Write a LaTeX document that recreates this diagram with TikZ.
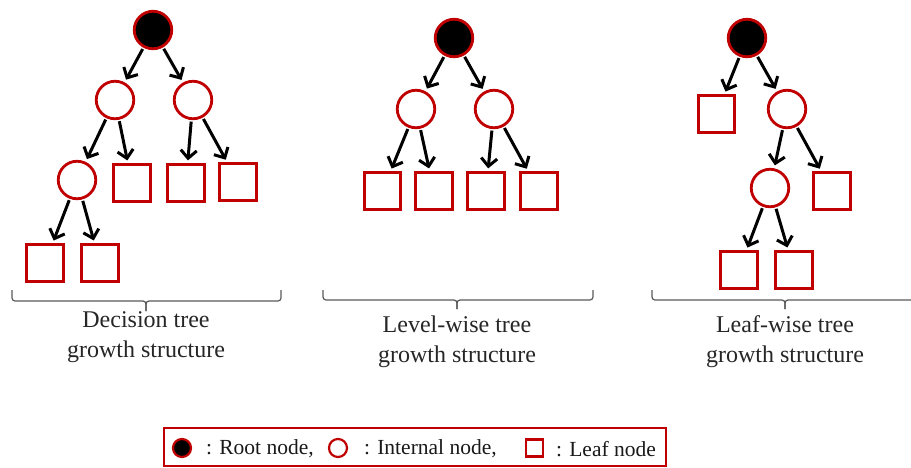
\documentclass[tikz,border=0pt]{standalone}
\usepackage{fontspec}
\setmainfont{Liberation Serif}
\usetikzlibrary{arrows.meta}
\definecolor{dred}{RGB}{192,0,0}
\begin{document}
\begin{tikzpicture}[x=1pt,y=-1pt,
 rootn/.style={circle,draw=dred,fill=black,line width=2.8pt,minimum size=37.5pt,inner sep=0pt},
 intn/.style={circle,draw=dred,fill=white,line width=2.8pt,minimum size=37.5pt,inner sep=0pt},
 leafn/.style={rectangle,draw=dred,fill=white,line width=2.8pt,minimum size=36.5pt,inner sep=0pt},
 arr/.style={line width=3pt,-{Straight Barb[length=8pt,width=16pt]},shorten >=3pt,shorten <=1.5pt},
 bracep/.style={draw=black!65,line width=1.2pt,rounded corners=3pt},
 lbl/.style={font=\fontsize{24}{30}\selectfont,align=center,text=black!85,inner sep=0pt},
 legt/.style={font=\fontsize{21.5}{24}\selectfont,text=black!90,anchor=west,inner sep=0pt},
 lroot/.style={circle,draw=dred,fill=black,line width=2.2pt,minimum size=18pt,inner sep=0pt},
 lint/.style={circle,draw=dred,fill=white,line width=2.2pt,minimum size=18pt,inner sep=0pt},
 lleaf/.style={rectangle,draw=dred,fill=white,line width=2.2pt,minimum size=17pt,inner sep=0pt}]
\useasboundingbox (0,0) rectangle (911,467);
\clip (0,0) rectangle (911,467);

% Tree 1: decision tree
\node[rootn] (r1) at (153,30) {};
\node[intn] (i1a) at (115,100) {};
\node[intn] (i1b) at (193,100) {};
\node[intn] (i1c) at (77,180) {};
\node[leafn] (l1a) at (132,183) {};
\node[leafn] (l1b) at (186,183) {};
\node[leafn] (l1c) at (238,182) {};
\node[leafn] (l1d) at (45,263) {};
\node[leafn] (l1e) at (100,263) {};
\draw[arr] (r1) -- (i1a);
\draw[arr] (r1) -- (i1b);
\draw[arr] (i1a) -- (i1c);
\draw[arr] (i1a) -- (l1a);
\draw[arr] (i1b) -- (l1b);
\draw[arr] (i1b) -- (l1c);
\draw[arr] (i1c) -- (l1d);
\draw[arr] (i1c) -- (l1e);

% Tree 2: level-wise
\node[rootn] (r2) at (454,38) {};
\node[intn] (i2a) at (416,109) {};
\node[intn] (i2b) at (494,109) {};
\node[leafn] (l2a) at (382.5,191) {};
\node[leafn] (l2b) at (434,191) {};
\node[leafn] (l2c) at (486,191) {};
\node[leafn] (l2d) at (539,191) {};
\draw[arr] (r2) -- (i2a);
\draw[arr] (r2) -- (i2b);
\draw[arr] (i2a) -- (l2a);
\draw[arr] (i2a) -- (l2b);
\draw[arr] (i2b) -- (l2c);
\draw[arr] (i2b) -- (l2d);

% Tree 3: leaf-wise
\node[rootn] (r3) at (747,38) {};
\node[leafn] (l3a) at (716.5,114) {};
\node[intn] (i3a) at (787,109) {};
\node[intn] (i3b) at (770,188) {};
\node[leafn] (l3b) at (832,191) {};
\node[leafn] (l3c) at (739,270) {};
\node[leafn] (l3d) at (794,270) {};
\draw[arr] (r3) -- (l3a);
\draw[arr] (r3) -- (i3a);
\draw[arr] (i3a) -- (i3b);
\draw[arr] (i3a) -- (l3b);
\draw[arr] (i3b) -- (l3c);
\draw[arr] (i3b) -- (l3d);

% Braces
\draw[bracep] (12,290) -- (12,301) -- (146,301) -- (146,311);
\draw[bracep] (281,290) -- (281,301) -- (146,301) -- (146,311);
\draw[bracep] (323,290) -- (323,300) -- (457,300) -- (457,309);
\draw[bracep] (593,290) -- (593,300) -- (457,300) -- (457,309);
\draw[bracep] (652,290) -- (652,300) -- (785,300) -- (785,309);
\draw[bracep] (918,290) -- (918,300) -- (785,300) -- (785,309);

% Labels
\node[lbl] (t1) at (146,337) {Decision tree\\growth structure};
\node[lbl] (t2) at (457,342) {Level-wise tree\\growth structure};
\node[lbl] (t3) at (785,342) {Leaf-wise tree\\growth structure};

% Legend
\draw[draw=dred,line width=1.8pt] (164,428) rectangle (666,466);
\node[lroot] (g1) at (182,448) {};
\node[legt] (g1t) at (206,449) {: Root node,};
\node[lint] (g2) at (338,448) {};
\node[legt] (g2t) at (364,449) {: Internal node,};
\node[lleaf] (g3) at (534.5,448) {};
\node[legt] (g3t) at (556,449) {: Leaf node};
\end{tikzpicture}
\end{document}
